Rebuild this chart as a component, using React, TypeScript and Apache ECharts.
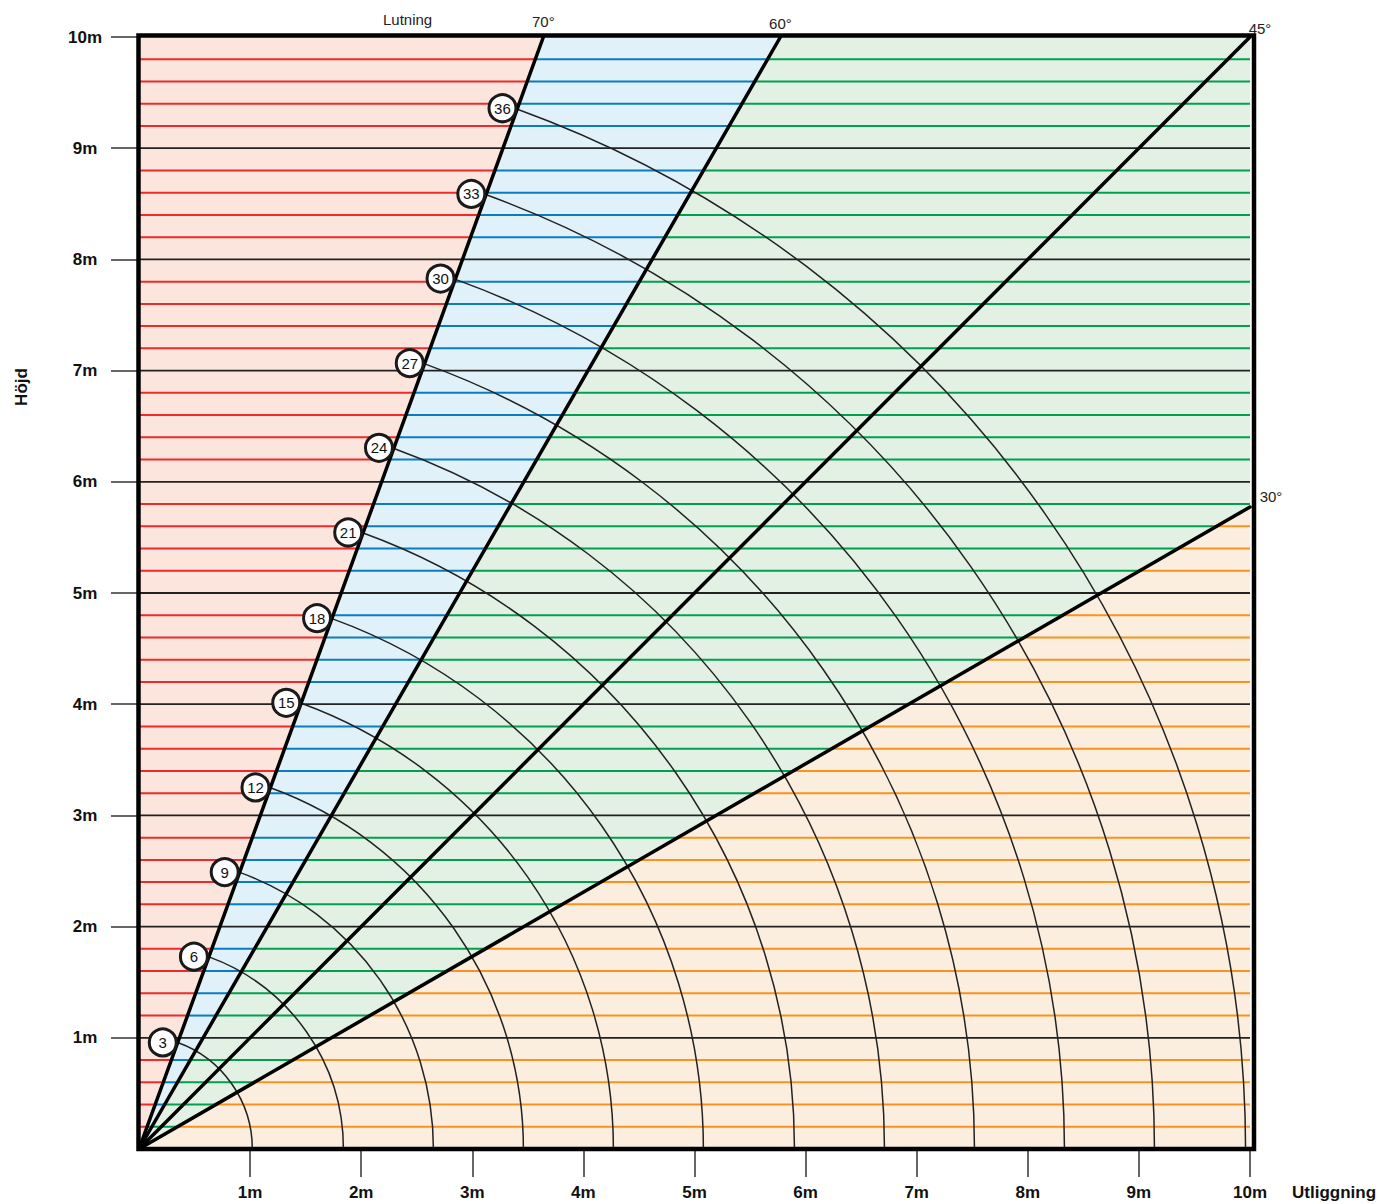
import React, { useEffect, useRef } from "react";
import * as echarts from "echarts";

// ---- data ----
const axisTicks = [1, 2, 3, 4, 5, 6, 7, 8, 9, 10];
const regionAngles = [90, 70, 60, 30, 0]; // region boundaries (degrees)
const regionFills = ["#fce5dc", "#e0f1f9", "#e3f1e5", "#fbeedf"];
const regionLines = ["#ee2a2a", "#0a7cc0", "#00a050", "#f7931e"];
const slopeAngles = [70, 60, 45, 30];
const slopeNames = ["70°", "60°", "45°", "30°"];
const ladderSteps = [3, 6, 9, 12, 15, 18, 21, 24, 27, 30, 33, 36];
const ladderReach = [1.02, 1.84, 2.65, 3.46, 4.27, 5.08, 5.9, 6.71, 7.52, 8.33, 9.14, 9.96];
const labelAngle = 70;
const gridStep = 0.2;
const maxVal = 10;

const FONT = "'Liberation Sans', Arial, sans-serif";
const rad = (d: number) => (d * Math.PI) / 180;

function rayEnd(a: number): [number, number] {
  if (a >= 90) return [0, maxVal];
  if (a <= 0) return [maxVal, 0];
  if (a >= 45) return [maxVal / Math.tan(rad(a)), maxVal];
  return [maxVal, maxVal * Math.tan(rad(a))];
}

function xAtLevel(a: number, y: number) {
  if (a >= 90) return 0;
  if (a <= 0) return maxVal;
  return Math.min(maxVal, y / Math.tan(rad(a)));
}

const levels: number[] = [];
for (let k = 1; k < Math.round(maxVal / gridStep); k++) levels.push(+(k * gridStep).toFixed(2));

export default function App() {
  const ref = useRef<HTMLDivElement>(null);
  useEffect(() => {
    if (!ref.current) return;
    const chart = echarts.init(ref.current, null, { renderer: "svg" });

    const regionData = regionFills.map((_, i) => [i, 0]);
    const slopeLabelOffsets = [
      [0, -16],
      [0, -14],
      [10, -9],
      [21, -10],
    ];
    const series: any[] = [
      {
        type: "custom",
        name: "regions",
        z: 1,
        silent: true,
        data: regionData,
        renderItem: (params: any, api: any) => {
          const i = params.dataIndex;
          const a1 = regionAngles[i];
          const a2 = regionAngles[i + 1];
          const pts: [number, number][] = [[0, 0], rayEnd(a1)];
          if (a1 > 45 && a2 < 45) pts.push([maxVal, maxVal]);
          pts.push(rayEnd(a2));
          return {
            type: "polygon",
            shape: { points: pts.map((p) => api.coord(p)) },
            style: { fill: regionFills[i], stroke: "none" },
          };
        },
      },
      {
        type: "custom",
        name: "levels",
        z: 2,
        silent: true,
        data: levels.map((y) => [0, y]),
        renderItem: (params: any, api: any) => {
          const y = api.value(1);
          const isInt = Math.abs(y - Math.round(y)) < 1e-6;
          const children: any[] = [];
          if (isInt) {
            const p0 = api.coord([0, y]);
            const p1 = api.coord([maxVal, y]);
            children.push({
              type: "line",
              shape: { x1: p0[0], y1: p0[1], x2: p1[0], y2: p1[1] },
              style: { stroke: "#222", lineWidth: 1.8 },
            });
          } else {
            for (let i = 0; i < regionLines.length; i++) {
              const xs = xAtLevel(regionAngles[i], y);
              const xe = xAtLevel(regionAngles[i + 1], y);
              if (xe - xs <= 1e-6) continue;
              const p0 = api.coord([xs, y]);
              const p1 = api.coord([xe, y]);
              children.push({
                type: "line",
                shape: { x1: p0[0], y1: p0[1], x2: p1[0], y2: p1[1] },
                style: { stroke: regionLines[i], lineWidth: 2 },
              });
            }
          }
          return { type: "group", children };
        },
      },
      {
        type: "custom",
        name: "arcs",
        z: 3,
        silent: true,
        data: ladderReach.map((r, i) => [r, ladderSteps[i]]),
        renderItem: (params: any, api: any) => {
          const r = api.value(0);
          const c = api.coord([0, 0]);
          const rp = api.size([r, 0])[0];
          return {
            type: "arc",
            shape: {
              cx: c[0],
              cy: c[1],
              r: rp,
              startAngle: -rad(labelAngle),
              endAngle: 0,
              clockwise: true,
            },
            style: { stroke: "#222", lineWidth: 1.5, fill: "none" },
          };
        },
      },
      {
        type: "custom",
        name: "slopes",
        z: 4,
        silent: true,
        data: slopeAngles.map((a) => [a, 0]),
        renderItem: (params: any, api: any) => {
          const a = api.value(0);
          const p0 = api.coord([0, 0]);
          const p1 = api.coord(rayEnd(a));
          return {
            type: "line",
            shape: { x1: p0[0], y1: p0[1], x2: p1[0], y2: p1[1] },
            style: { stroke: "#000", lineWidth: 3.5, lineCap: "round" },
          };
        },
      },
      {
        type: "custom",
        name: "box",
        z: 5,
        silent: true,
        data: [[0, 0]],
        renderItem: (params: any, api: any) => {
          const p0 = api.coord([0, 0]);
          const p1 = api.coord([maxVal, maxVal]);
          return {
            type: "rect",
            shape: {
              x: p0[0] - 0.5,
              y: p1[1] - 1.5,
              width: p1[0] - p0[0] + 4.5,
              height: p0[1] - p1[1] + 1.5,
            },
            style: { stroke: "#000", lineWidth: 4.5, fill: "none" },
          };
        },
      },
      {
        type: "scatter",
        name: "steps",
        z: 6,
        silent: true,
        symbol: "circle",
        symbolSize: 27,
        symbolOffset: [-15, 0],
        itemStyle: { color: "#fff", borderColor: "#1a1a1a", borderWidth: 3, opacity: 1 },
        label: {
          show: true,
          position: "inside",
          formatter: (p: any) => String(p.value[2]),
          fontFamily: FONT,
          fontSize: 15,
          color: "#111",
        },
        data: ladderReach.map((r, i) => [
          r * Math.cos(rad(labelAngle)),
          r * Math.sin(rad(labelAngle)),
          ladderSteps[i],
        ]),
      },
      {
        type: "scatter",
        name: "slopeNames",
        z: 6,
        silent: true,
        symbolSize: 0,
        itemStyle: { opacity: 1 },
        label: {
          show: true,
          fontFamily: FONT,
          fontSize: 15,
          color: "#222",
          formatter: (p: any) => slopeNames[p.dataIndex],
        },
        data: slopeAngles.map((a, i) => ({
          value: rayEnd(a),
          label: { position: "inside", offset: slopeLabelOffsets[i] },
        })),
      },
    ];

    const axisCommon = {
      type: "value",
      min: 0,
      max: maxVal,
      interval: 1,
      splitLine: { show: false },
      axisLine: { show: false },
      axisTick: {
        show: true,
        length: 28,
        customValues: axisTicks,
        lineStyle: { color: "#333", width: 1.5 },
      },
    };

    chart.setOption({
      animation: false,
      grid: { left: 139, right: 131, top: 37, bottom: 55 },
      xAxis: {
        ...axisCommon,
        axisLabel: {
          customValues: axisTicks,
          formatter: (v: number) => `${v}m`,
          margin: 35,
          fontFamily: FONT,
          fontWeight: "bold",
          fontSize: 17,
          color: "#111",
        },
      },
      yAxis: {
        ...axisCommon,
        axisLabel: {
          customValues: axisTicks,
          formatter: (v: number) => `${v}m`,
          margin: 54,
          align: "center",
          fontFamily: FONT,
          fontWeight: "bold",
          fontSize: 17,
          color: "#111",
        },
      },
      graphic: [
        {
          type: "text",
          left: 383,
          top: 12,
          style: { text: "Lutning", font: `15px ${FONT}`, fill: "#222" },
        },
        {
          type: "text",
          x: 21,
          y: 387,
          rotation: Math.PI / 2,
          style: {
            text: "Höjd",
            font: `bold 17px ${FONT}`,
            fill: "#111",
            align: "center",
            verticalAlign: "middle",
          },
        },
        {
          type: "text",
          left: 1292,
          top: 1184,
          style: { text: "Utliggning", font: `bold 17px ${FONT}`, fill: "#111" },
        },
      ],
      series,
    });
    return () => chart.dispose();
  }, []);

  return (
    <div
      ref={ref}
      style={{ position: "absolute", left: 0, top: 0, width: 1381, height: 1204, background: "#fff" }}
    />
  );
}
